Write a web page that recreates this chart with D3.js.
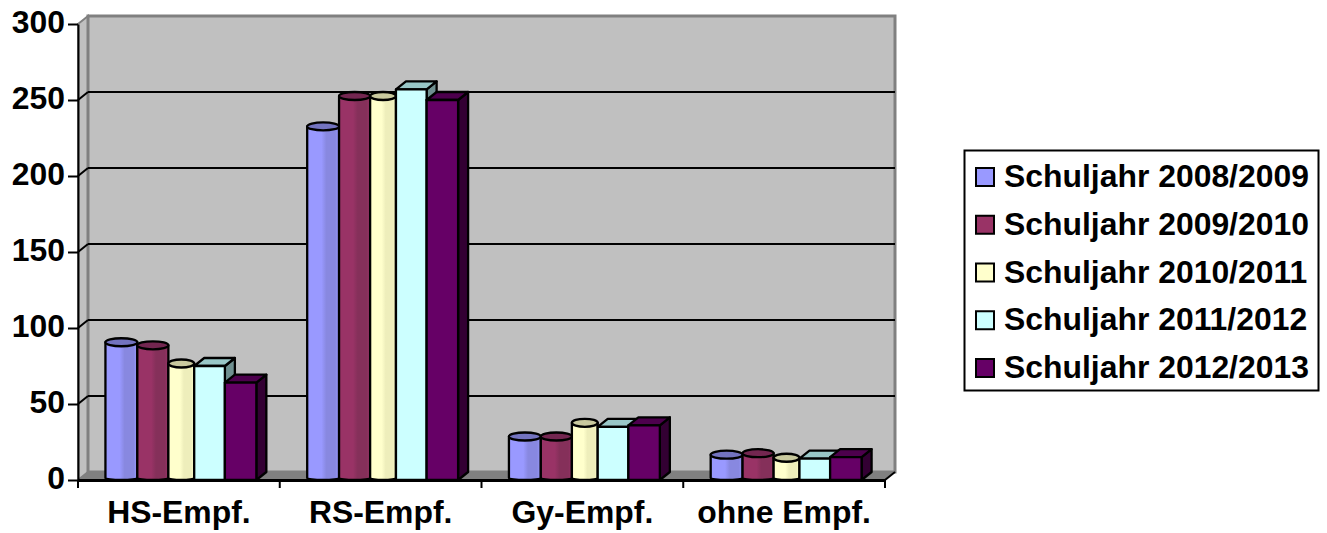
<!DOCTYPE html>
<html>
<head>
<meta charset="utf-8">
<script src="https://cdn.jsdelivr.net/npm/d3@7"></script>
<style>
  html, body { margin: 0; padding: 0; background: #fff; }
  svg { display: block; }
  text { font-family: "Liberation Sans", Arial, sans-serif; font-weight: bold; fill: #000; }
</style>
</head>
<body>
<svg id="chart" width="1327" height="533"></svg>
<script>
// Recommendations per school year
const categories = ["HS-Empf.", "RS-Empf.", "Gy-Empf.", "ohne Empf."];
const seriesNames = ["Schuljahr 2008/2009", "Schuljahr 2009/2010", "Schuljahr 2010/2011", "Schuljahr 2011/2012", "Schuljahr 2012/2013"];
const year0809 = [88, 230, 26, 14];
const year0910 = [86, 250, 26, 15];
const year1011 = [74, 250, 35, 12];
const year1112 = [75, 257, 35, 14];
const year1213 = [64, 250, 36, 15];
const seriesValues = [year0809, year0910, year1011, year1112, year1213];
const yTicks = [0, 50, 100, 150, 200, 250, 300];

// Look of each series: cylinders first, then boxes
const shapes = ["cyl", "cyl", "cyl", "box", "box"];
const faceColors = ["#9999ff", "#993366", "#ffffcc", "#ccffff", "#660066"];
const shadeColors = ["#8888e0", "#85305a", "#eeeebb", "#ccffff", "#660066"];
const topColors = ["#7373bf", "#732650", "#c9c99e", "#99c7c7", "#4d004d"];
const sideColors = ["#666699", "#662244", "#999977", "#6f9090", "#330033"];
// Edges of the bars inside one category band, as a share of its width
const barEdges = [0.136, 0.294, 0.448, 0.576, 0.728, 0.884];

const depthX = 10, depthY = 8;
const plotLeft = 78, plotRight = 885, plotTop = 24, plotBottom = 480;
const labelSize = 31.9;

const svg = d3.select("#chart");
const defs = svg.append("defs");

const x = d3.scaleBand().domain(categories).range([plotLeft, plotRight]).paddingInner(0).paddingOuter(0);
const y = d3.scaleLinear().domain([0, 300]).range([plotBottom, plotTop]);

// Cylinder shading: light on the left, darker towards the right, pale rim at the edge
faceColors.forEach((c, i) => {
  if (shapes[i] !== "cyl") return;
  const g = defs.append("linearGradient").attr("id", "cyl" + i);
  [[0, c], [0.45, c], [0.6, shadeColors[i]], [0.88, shadeColors[i]], [1, c]].forEach(([o, col]) =>
    g.append("stop").attr("offset", o).attr("stop-color", col));
});

// Back wall, side wall and floor
const walls = svg.append("g");
walls.append("polygon")
  .attr("points", [[plotLeft, plotTop], [plotLeft + depthX, plotTop - depthY], [plotLeft + depthX, plotBottom - depthY], [plotLeft, plotBottom]].join(" "))
  .attr("fill", "#c0c0c0").attr("stroke", "#808080").attr("stroke-width", 2);
walls.append("rect")
  .attr("x", plotLeft + depthX).attr("y", plotTop - depthY)
  .attr("width", plotRight - plotLeft).attr("height", plotBottom - plotTop)
  .attr("fill", "#c0c0c0").attr("stroke", "#808080").attr("stroke-width", 3);
walls.append("polygon")
  .attr("points", [[plotLeft, plotBottom], [plotLeft + depthX, plotBottom - depthY], [plotRight + depthX, plotBottom - depthY], [plotRight, plotBottom]].join(" "))
  .attr("fill", "#808080");

// Gridlines on the back wall with their slanted run over the side wall
const grid = svg.append("g").attr("stroke", "#000").attr("stroke-width", 2);
yTicks.filter(t => t > 0 && t < 300).forEach(t => {
  grid.append("line")
    .attr("x1", plotLeft + depthX).attr("x2", plotRight + depthX)
    .attr("y1", y(t) - depthY).attr("y2", y(t) - depthY);
  grid.append("line")
    .attr("x1", plotLeft).attr("x2", plotLeft + depthX)
    .attr("y1", y(t)).attr("y2", y(t) - depthY);
});

// Bars
const bars = svg.append("g").attr("stroke", "#000").attr("stroke-width", 2.3).attr("stroke-linejoin", "round");
categories.forEach((cat, ci) => {
  const band = x(cat), w = x.bandwidth();
  seriesValues.forEach((vals, si) => {
    const x0 = band + barEdges[si] * w;
    const x1 = band + barEdges[si + 1] * w;
    const top = y(vals[ci]);
    if (shapes[si] === "box") {
      bars.append("polygon")
        .attr("points", [[x1, top], [x1 + depthX, top - depthY], [x1 + depthX, plotBottom - depthY], [x1, plotBottom]].join(" "))
        .attr("fill", sideColors[si]);
      bars.append("polygon")
        .attr("points", [[x0, top], [x0 + depthX, top - depthY], [x1 + depthX, top - depthY], [x1, top]].join(" "))
        .attr("fill", topColors[si]);
      bars.append("rect")
        .attr("x", x0).attr("y", top).attr("width", x1 - x0).attr("height", plotBottom - top)
        .attr("fill", faceColors[si]);
    } else {
      const rx = (x1 - x0) / 2, ry = 4;
      const cx = (x0 + x1) / 2;
      const cyTop = top - depthY / 2, cyBase = plotBottom - 2;
      bars.append("path")
        .attr("d", `M${x0},${cyTop}V${cyBase}A${rx},2 0 0 0 ${x1},${cyBase}V${cyTop}Z`)
        .attr("fill", `url(#cyl${si})`);
      bars.append("ellipse")
        .attr("cx", cx).attr("cy", cyTop).attr("rx", rx).attr("ry", ry)
        .attr("fill", topColors[si]);
    }
  });
});

// Value axis
const yAxis = svg.append("g")
  .attr("transform", `translate(${plotLeft},0)`)
  .call(d3.axisLeft(y).tickValues(yTicks).tickSize(10).tickPadding(3).tickSizeOuter(0));
yAxis.selectAll(".domain").attr("stroke", "#000").attr("stroke-width", 2);
yAxis.selectAll(".tick line").attr("stroke", "#000").attr("stroke-width", 2);
yAxis.selectAll("text").attr("font-size", labelSize).attr("y", -1.5);

// Category axis: labels sit mid-band, tick marks on the band edges
const xAxis = svg.append("g")
  .attr("transform", `translate(0,${plotBottom})`)
  .call(d3.axisBottom(x).tickSize(0).tickPadding(20));
xAxis.selectAll(".domain").attr("stroke", "#000").attr("stroke-width", 3);
xAxis.selectAll("text").attr("font-size", labelSize);
const edges = categories.map(c => x(c)).concat(plotRight);
xAxis.selectAll("line.edge").data(edges).join("line")
  .attr("class", "edge")
  .attr("x1", d => d).attr("x2", d => d)
  .attr("y1", 0).attr("y2", 8)
  .attr("stroke", "#000").attr("stroke-width", 2);
svg.append("line")
  .attr("x1", plotRight).attr("y1", plotBottom)
  .attr("x2", plotRight + depthX).attr("y2", plotBottom - depthY)
  .attr("stroke", "#000").attr("stroke-width", 2);

// Legend
const legend = svg.append("g");
legend.append("rect")
  .attr("x", 964.5).attr("y", 150.5).attr("width", 354).attr("height", 240)
  .attr("fill", "#fff").attr("stroke", "#000").attr("stroke-width", 2);
const rowY = d3.scalePoint().domain(seriesNames).range([177, 368]);
seriesNames.forEach((name, i) => {
  legend.append("rect")
    .attr("x", 976).attr("y", rowY(name) - 9).attr("width", 18).attr("height", 18)
    .attr("fill", faceColors[i]).attr("stroke", "#000").attr("stroke-width", 2);
  legend.append("text")
    .attr("x", 1004).attr("y", rowY(name) - 1).attr("dy", "0.35em")
    .attr("font-size", labelSize).text(name);
});
</script>
</body>
</html>
